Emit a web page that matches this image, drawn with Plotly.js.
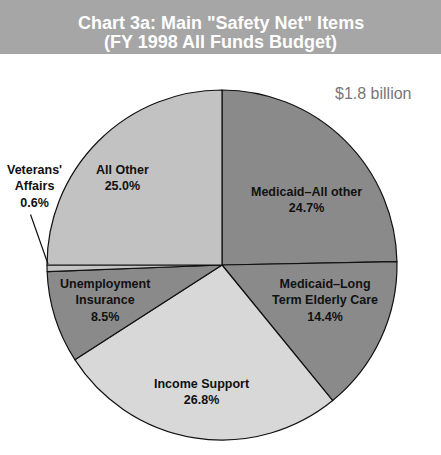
<!DOCTYPE html>
<html>
<head>
<meta charset="utf-8">
<script src="https://cdn.plot.ly/plotly-3.0.1.min.js"></script>
<style>html,body{margin:0;padding:0;background:#fff;}#chart{width:441px;height:455px;}</style>
</head>
<body>
<div id="chart"></div>
<script>
const categories = ["Medicaid\u2013All other", "Medicaid\u2013Long<br>Term Elderly Care", "Income Support", "Unemployment<br>Insurance", "Veterans'<br>Affairs", "All Other"];
const shares = [24.7, 14.4, 26.8, 8.5, 0.6, 25.0];
const sliceColors = ["#8a8a8a", "#8a8a8a", "#d8d8d8", "#8a8a8a", "#c4c4c4", "#c2c2c2"];
const titleLines = ["Chart 3a: Main \"Safety Net\" Items", "(FY 1998 All Funds Budget)"];
const totalText = "$1.8 billion";

// label placement (paper coords) for each category
const labelPos = [[306, 200], [325, 300], [202, 392], [105, 300], [34, 186], [122, 178]];

const W = 441, H = 455;
const px = x => x / W;
const py = y => 1 - y / H;

const annotations = categories.map((c, i) => ({
  text: c + "<br>" + shares[i].toFixed(1) + "%",
  x: px(labelPos[i][0]), y: py(labelPos[i][1]),
  xref: "paper", yref: "paper", xanchor: "center", yanchor: "middle",
  showarrow: false,
  font: {family: "Liberation Sans, Arial, sans-serif", size: 12.5, color: "#111", weight: "bold"},
  align: "center"
}));
// leader line for the tiny Veterans' slice
annotations.push({
  x: px(48), y: py(264), xref: "paper", yref: "paper",
  ax: 30 - 48, ay: 213 - 264, showarrow: true, arrowhead: 0, arrowwidth: 1.2,
  arrowcolor: "#111", text: ""
});
const titleY = [23, 42];
titleLines.forEach((t, i) => annotations.push({
  text: t, x: 0.5, y: py(titleY[i]), xref: "paper", yref: "paper",
  xanchor: "center", yanchor: "middle", showarrow: false,
  font: {family: "Liberation Sans, Arial, sans-serif", size: 18, color: "#ffffff", weight: "bold"},
  align: "center"
}));
annotations.push({
  text: totalText, x: px(373), y: py(94), xref: "paper", yref: "paper",
  xanchor: "center", yanchor: "middle", showarrow: false,
  font: {family: "Liberation Sans, Arial, sans-serif", size: 16, color: "#777"}
});

const cx = 222, cy = 265, r = 175;
const data = [{
  type: "pie",
  labels: categories,
  values: shares,
  sort: false,
  direction: "clockwise",
  rotation: 0,
  textinfo: "none",
  hoverinfo: "label+percent",
  marker: {colors: sliceColors, line: {color: "#111", width: 1.2}},
  domain: {x: [px(cx - r), px(cx + r)], y: [py(cy + r), py(cy - r)]},
  showlegend: false
}];

const layout = {
  width: W, height: H,
  margin: {l: 0, r: 0, t: 0, b: 0},
  paper_bgcolor: "#ffffff",
  showlegend: false,
  shapes: [{
    type: "rect", xref: "paper", yref: "paper",
    x0: 0, x1: 1, y0: py(54), y1: 1,
    fillcolor: "#a6a6a6", line: {width: 0}, layer: "below"
  }],
  annotations: annotations
};

Plotly.newPlot("chart", data, layout, {displayModeBar: false, staticPlot: true});
</script>
</body>
</html>
